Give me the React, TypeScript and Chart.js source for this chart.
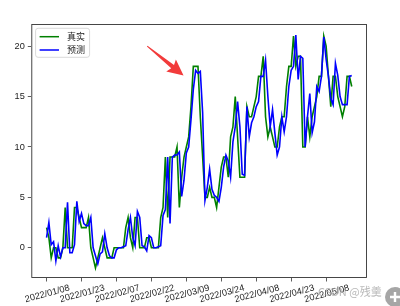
import React, { useEffect, useRef } from 'react';
import { Chart, registerables } from 'chart.js';

Chart.register(...registerables);

// Daily series from 2022/01/08 (index 0) to 2022/05/19 (index 131)
const trueValues: number[] = [
  2, 1, -1, 0, 0, -1, -1, 0, 4, 0,
  0, 0, 4, 4, 3, 2, 2, 2, 3, 0,
  -1, -2, -1, 0, 1, 0, -1, -1, -1, 0,
  0, 0, 0, 0, 2, 3, 1, 0, 3, 3,
  0, 0, 0, 1, 1, 0, 0, 0, 0, 3,
  4, 9, 3, 9, 9, 9, 10, 4, 7, 9,
  10, 11, 14, 18, 18, 18, 13, 9, 5, 5,
  6, 5, 5, 4, 6, 8, 9, 9, 7, 11,
  12, 15, 11, 7, 7, 7, 14, 13, 13, 14,
  15, 17, 17, 19, 13, 11, 12, 11, 10, 10,
  12, 13, 13, 16, 18, 18, 21, 18, 19, 19,
  10, 10, 13, 11, 13, 14, 15, 17, 17, 21,
  20, 17, 14, 17, 17, 15, 14, 13, 14, 17,
  17, 16,
];

const predValues: number[] = [
  1.0, 2.5, 0.3, 0.6, -1.3, 0.2, -0.9, 0.0, 0.0, 4.5,
  -0.5, -0.5, 0.3, 4.6, 2.6, 3.4, 2.4, 2.2, 2.2, 3.0,
  0.0, -0.8, -1.6, -0.6, -0.4, 1.4, 0.0, -0.8, -1.0, -1.0,
  -0.2, 0.0, 0.0, 0.1, 0.2, 1.8, 3.0, 1.0, 0.2, 3.6,
  3.0, 0.2, 0.1, -0.3, 1.2, 1.0, 0.0, 0.0, 0.1, 0.2,
  3.2, 3.8, 9.0, 2.4, 9.0, 9.2, 9.2, 9.5, 5.1, 6.7,
  9.4, 10.0, 12.7, 15.7, 17.6, 17.3, 17.5, 13.4, 4.7, 6.0,
  7.8, 5.8, 5.2, 5.0, 4.6, 6.0, 8.0, 9.2, 8.6, 7.0,
  10.5, 12.0, 14.5, 12.0, 7.3, 7.2, 14.0, 11.0, 12.4, 13.0,
  14.0, 14.5, 17.0, 17.0, 18.6, 15.0, 12.0, 13.7, 11.4, 9.2,
  10.0, 13.0, 11.5, 13.0, 16.0, 17.6, 18.0, 21.1, 16.7, 19.0,
  18.8, 10.0, 13.0, 15.3, 11.4, 12.5, 16.0, 15.5, 17.0, 20.9,
  18.7, 17.0, 14.8, 14.2, 18.3, 17.1, 15.0, 14.2, 14.2, 14.2,
  17.0, 17.1,
];

const seriesNames = ['真实', '预测'];
const seriesColors = ['#008000', '#0000ff'];

const xTickDays = [0, 15, 30, 45, 60, 75, 90, 105, 120];
const xTickLabels = [
  '2022/01/08', '2022/01/23', '2022/02/07', '2022/02/22', '2022/03/09',
  '2022/03/24', '2022/04/08', '2022/04/23', '2022/05/08',
];
const yTickValues = [0, 5, 10, 15, 20];
const yRange = [-3.0, 22.2];

// annotation arrow in data coordinates (tail -> tip)
const arrowTail = { day: 43.2, value: 20.0 };
const arrowTip = { day: 58.8, value: 17.1 };
const watermark = 'CSDN @残羹';

const tickFont = { family: 'Liberation Sans, Arial, sans-serif', size: 9.2 };
const cjkFont = '9px "Noto Sans CJK SC", sans-serif';

export default function App() {
  const ref = useRef<HTMLCanvasElement>(null);

  useEffect(() => {
    document.body.style.margin = '0';
    const canvas = ref.current;
    if (!canvas) return;
    const n = trueValues.length;
    const span = n - 1;
    const xMin = -0.05 * span;
    const xMax = span * 1.05;
    const idx = trueValues.map((_, i) => i);

    const decor = {
      id: 'decor',
      afterDraw(chart: any) {
        const { ctx, chartArea: a, scales } = chart;
        ctx.save();
        // frame
        ctx.strokeStyle = '#333';
        ctx.lineWidth = 0.9;
        ctx.strokeRect(a.left + 0.5, a.top + 0.5, a.right - a.left - 1, a.bottom - a.top - 1);

        // legend
        const lx = a.left + 4.3;
        const ly = a.top + 4.3;
        const lw = 54;
        const lh = 29;
        ctx.beginPath();
        const r = 2.5;
        ctx.moveTo(lx + r, ly);
        ctx.lineTo(lx + lw - r, ly);
        ctx.quadraticCurveTo(lx + lw, ly, lx + lw, ly + r);
        ctx.lineTo(lx + lw, ly + lh - r);
        ctx.quadraticCurveTo(lx + lw, ly + lh, lx + lw - r, ly + lh);
        ctx.lineTo(lx + r, ly + lh);
        ctx.quadraticCurveTo(lx, ly + lh, lx, ly + lh - r);
        ctx.lineTo(lx, ly + r);
        ctx.quadraticCurveTo(lx, ly, lx + r, ly);
        ctx.closePath();
        ctx.fillStyle = 'rgba(255,255,255,0.85)';
        ctx.fill();
        ctx.strokeStyle = '#d0d0d0';
        ctx.lineWidth = 0.8;
        ctx.stroke();
        seriesNames.forEach((name, i) => {
          const yy = ly + 8.4 + i * 13.3;
          ctx.strokeStyle = seriesColors[i];
          ctx.lineWidth = 1.5;
          ctx.beginPath();
          ctx.moveTo(lx + 4, yy);
          ctx.lineTo(lx + 23.4, yy);
          ctx.stroke();
          ctx.fillStyle = '#222';
          ctx.font = cjkFont;
          ctx.textBaseline = 'middle';
          ctx.textAlign = 'left';
          ctx.fillText(name, lx + 31.5, yy);
        });

        // red arrow annotation
        const tx = scales.x.getPixelForValue(arrowTail.day);
        const ty = scales.y.getPixelForValue(arrowTail.value);
        const hx = scales.x.getPixelForValue(arrowTip.day);
        const hy = scales.y.getPixelForValue(arrowTip.value);
        const dx = hx - tx;
        const dy = hy - ty;
        const len = Math.hypot(dx, dy);
        const ux = dx / len;
        const uy = dy / len;
        const px = -uy;
        const py = ux;
        const headLen = 16;
        const headHalf = 7.7;
        const bx = hx - ux * headLen;
        const by = hy - uy * headLen;
        ctx.fillStyle = '#f23b3b';
        ctx.beginPath();
        ctx.moveTo(tx + px * 0.5, ty + py * 0.5);
        ctx.lineTo(bx + ux * 2 + px * 2.2, by + uy * 2 + py * 2.2);
        ctx.lineTo(bx + px * headHalf, by + py * headHalf);
        ctx.lineTo(hx, hy);
        ctx.lineTo(bx - px * headHalf, by - py * headHalf);
        ctx.lineTo(bx + ux * 2 - px * 2.2, by + uy * 2 - py * 2.2);
        ctx.lineTo(tx - px * 0.5, ty - py * 0.5);
        ctx.closePath();
        ctx.fill();

        // watermark
        ctx.font = '11px "Noto Sans CJK SC", sans-serif';
        ctx.fillStyle = 'rgba(160,160,160,0.75)';
        ctx.textAlign = 'left';
        ctx.textBaseline = 'alphabetic';
        ctx.fillText(watermark, 318, 296);

        // corner zoom icon
        ctx.fillStyle = 'rgba(150,150,150,0.85)';
        ctx.beginPath();
        ctx.arc(395, 297, 10, 0, Math.PI * 2);
        ctx.fill();
        ctx.strokeStyle = '#fff';
        ctx.lineWidth = 2.4;
        ctx.beginPath();
        ctx.moveTo(390, 297);
        ctx.lineTo(400, 297);
        ctx.moveTo(395, 292);
        ctx.lineTo(395, 302);
        ctx.stroke();
        ctx.restore();
      },
    };

    const chart = new Chart(canvas, {
      type: 'line',
      data: {
        labels: idx,
        datasets: [
          {
            label: seriesNames[0],
            data: trueValues.map((v, i) => ({ x: i, y: v })),
            borderColor: seriesColors[0],
            borderWidth: 1.6,
            pointRadius: 0,
            tension: 0,
            fill: false,
            order: 2,
          },
          {
            label: seriesNames[1],
            data: predValues.map((v, i) => ({ x: i, y: v })),
            borderColor: seriesColors[1],
            borderWidth: 1.6,
            pointRadius: 0,
            tension: 0,
            fill: false,
            order: 1,
          },
        ],
      },
      options: {
        responsive: false,
        animation: false,
        devicePixelRatio: 1,
        layout: { padding: { left: 0, top: 24, right: 33, bottom: 0 } },
        plugins: { legend: { display: false }, tooltip: { enabled: false } },
        scales: {
          x: {
            type: 'linear',
            min: xMin,
            max: xMax,
            afterBuildTicks: (s: any) => {
              s.ticks = xTickDays.map((v) => ({ value: v }));
            },
            afterFit: (s: any) => {
              s.height = 28;
            },
            ticks: {
              autoSkip: false,
              minRotation: 15,
              maxRotation: 15,
              labelOffset: 23,
              padding: 1,
              color: '#222',
              font: tickFont,
              callback: (v: any) => {
                const i = xTickDays.indexOf(Number(v));
                return i >= 0 ? xTickLabels[i] : '';
              },
            },
            grid: { display: true, drawOnChartArea: false, drawTicks: true, tickLength: 3.5, color: '#333', lineWidth: 0.8 },
            border: { display: false },
          },
          y: {
            type: 'linear',
            min: yRange[0],
            max: yRange[1],
            afterBuildTicks: (s: any) => {
              s.ticks = yTickValues.map((v) => ({ value: v }));
            },
            afterFit: (s: any) => {
              s.width = 25;
            },
            ticks: {
              padding: 3,
              color: '#222',
              font: tickFont,
              callback: (v: any) => String(v),
            },
            grid: { display: true, drawOnChartArea: false, drawTicks: true, tickLength: 3.5, color: '#333', lineWidth: 0.8 },
            border: { display: false },
          },
        },
      },
      plugins: [decor],
    } as any);

    return () => chart.destroy();
  }, []);

  return (
    <div style={{ width: 400, height: 306, position: 'relative' }}>
      <canvas ref={ref} width={400} height={306} style={{ display: 'block', width: 400, height: 306 }} />
    </div>
  );
}
